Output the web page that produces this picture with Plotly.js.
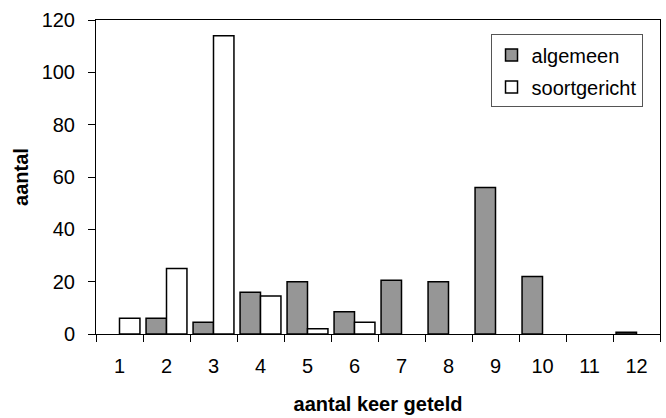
<!DOCTYPE html>
<html>
<head>
<meta charset="utf-8">
<script src="https://cdn.plot.ly/plotly-3.0.1.min.js"></script>
<style>html,body{margin:0;padding:0;background:#fff;}#chart{width:666px;height:418px;}</style>
</head>
<body>
<div id="chart"></div>
<script>
const categories = ["1","2","3","4","5","6","7","8","9","10","11","12"];
const algemeen = [null, 6, 4.5, 16, 20, 8.5, 20.5, 20, 56, 22, null, 0.7];
const soortgericht = [6, 25, 114, 14.5, 2, 4.5, null, null, null, null, null, null];

const FONT = '"Liberation Sans", Arial, sans-serif';

const traces = [
  {type:'bar', name:'algemeen', x:categories, y:algemeen, legendgroup:'a',
   marker:{color:'#969696', line:{color:'#000', width:1.5}}},
  {type:'bar', name:'soortgericht', x:categories, y:soortgericht, legendgroup:'b',
   marker:{color:'#ffffff', line:{color:'#000', width:1.5}}}
];

const layout = {
  width:666, height:418,
  margin:{l:96, r:6, t:20, b:84},
  paper_bgcolor:'#fff', plot_bgcolor:'#fff',
  font:{family:FONT, size:20, color:'#000'},
  barmode:'group', bargap:0.13, bargroupgap:0,
  showlegend:true,
  legend:{x:0.969, xanchor:'right', y:0.954, yanchor:'top',
          bgcolor:'#fff', bordercolor:'#555', borderwidth:1,
          font:{family:FONT, size:20, color:'#000'},
          traceorder:'grouped', tracegroupgap:3},
  xaxis:{type:'category', showline:true, linecolor:'#000', linewidth:1, mirror:true,
         ticks:'outside', tickson:'boundaries', ticklen:7, tickcolor:'#000',
         showgrid:false, zeroline:false, ticklabelstandoff:14,
         tickfont:{family:FONT, size:20},
         title:{text:'<b>aantal keer geteld</b>', font:{family:FONT, size:20}, standoff:20}},
  yaxis:{range:[0,120], dtick:20, showline:true, linecolor:'#000', linewidth:1, mirror:true,
         ticks:'outside', ticklen:7, tickcolor:'#000', showgrid:false, zeroline:false,
         ticklabelstandoff:9,
         tickfont:{family:FONT, size:20},
         title:{text:'<b>aantal</b>', font:{family:FONT, size:20}, standoff:7}}
};

Plotly.newPlot('chart', traces, layout, {staticPlot:true});
</script>
</body>
</html>
